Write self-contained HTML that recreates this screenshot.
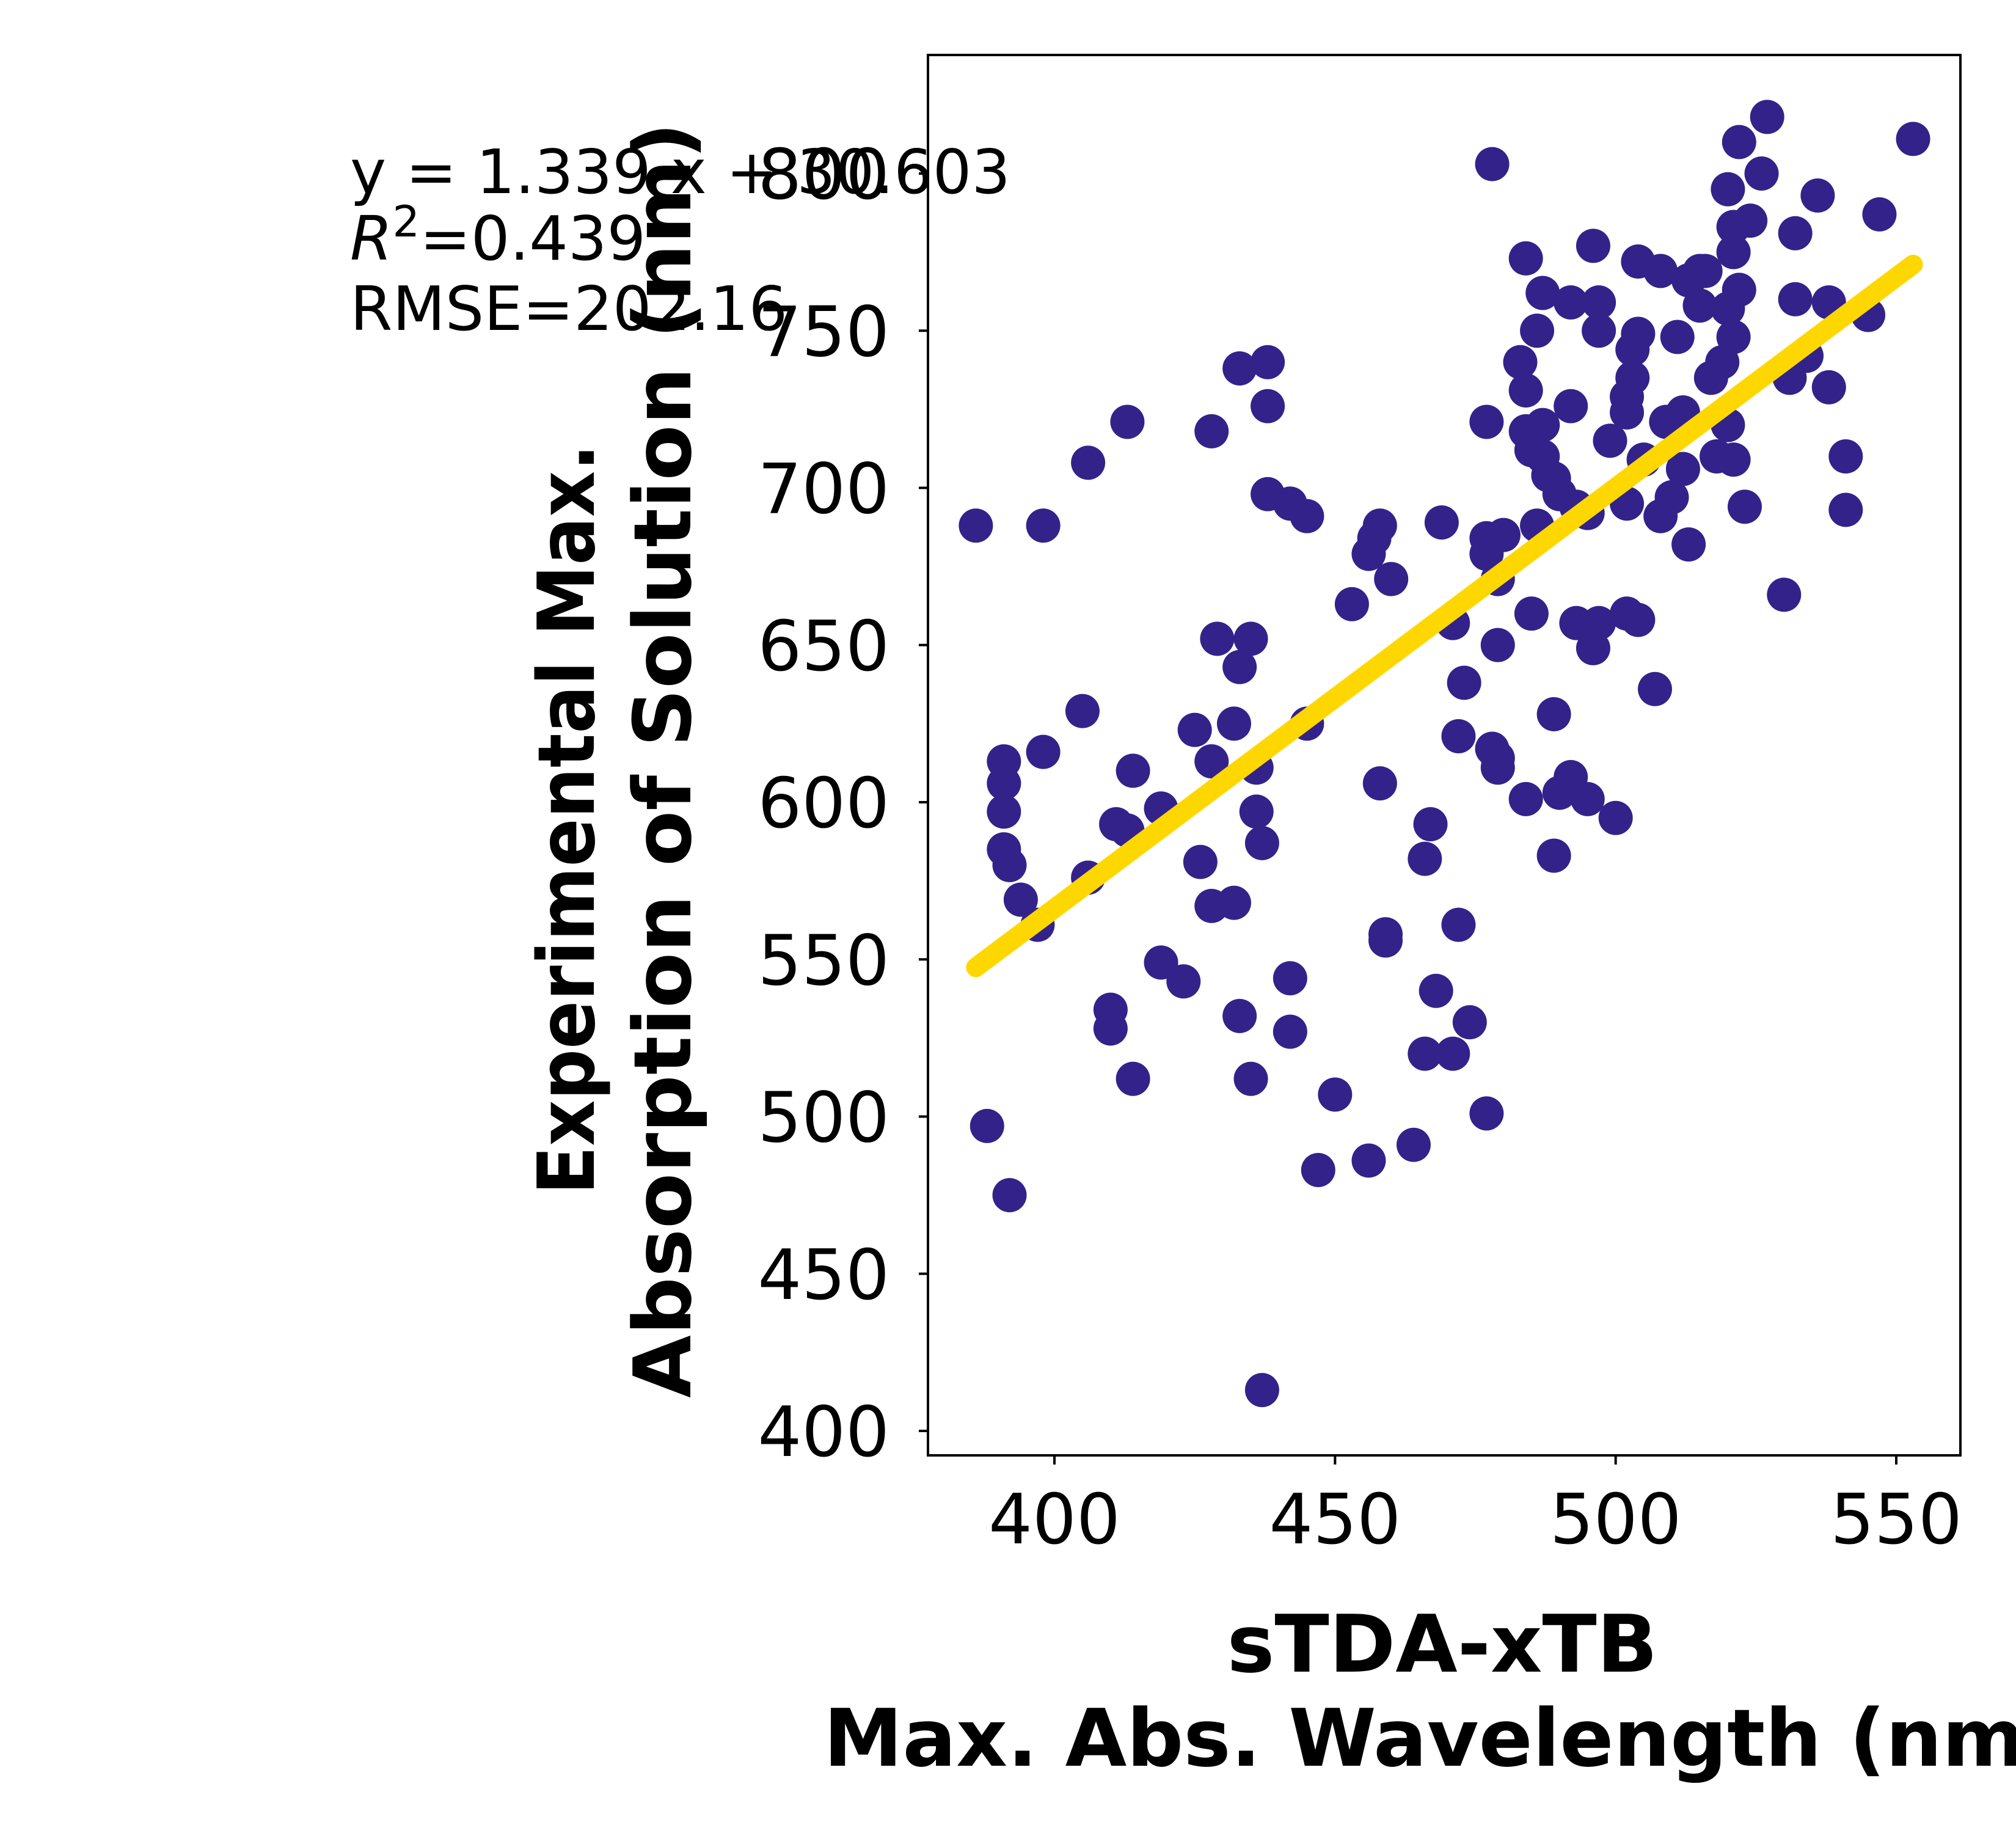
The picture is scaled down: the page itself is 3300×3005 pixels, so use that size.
<!DOCTYPE html>
<html><head><meta charset="utf-8"><style>
html,body{margin:0;padding:0;background:#fff;}
svg text{font-family:"DejaVu Sans","Liberation Sans",sans-serif;}
</style></head><body>
<svg id="chart" width="3300" height="3000" viewBox="0 0 3300 3000" xmlns="http://www.w3.org/2000/svg">
<rect x="0" y="0" width="3300" height="3000" fill="#fff"/>
<g id="plot"></g>
<g id="axes"></g>
<text x="573" y="316" font-size="100">y = 1.339 x + 30.603</text>
<text x="573" y="425" font-size="100"><tspan font-style="italic">R</tspan><tspan font-size="70" dy="-38">2</tspan><tspan dy="38">=0.439</tspan></text>
<text x="573" y="540" font-size="100">RMSE=202.16</text>
<text font-size="130" font-weight="bold" text-anchor="middle"><tspan x="2361" y="2736" textLength="705" lengthAdjust="spacingAndGlyphs">sTDA-xTB</tspan><tspan x="2361" y="2890">Max. Abs. Wavelength (nm)</tspan></text>
<text font-size="128" font-weight="bold" text-anchor="middle" textLength="1229" lengthAdjust="spacingAndGlyphs" transform="translate(972,1341) rotate(-90)">Experimental Max.</text>
<text font-size="130" font-weight="bold" text-anchor="middle" textLength="2088" lengthAdjust="spacingAndGlyphs" transform="translate(1130,1244) rotate(-90)">Absorption of Solution (nm)</text>
</svg>
<script>
const xs = [386,388,392,391,391,391,391,392,394,397,398,398,405,406,406,413,411,413,414,410,410,414,419,419,423,425,426,428,428,428,429,432,432,433,433,433,435,435,436,436,437,437,438,438,438,442,442,442,445,445,447,450,453,456,456,457,458,458,459,459,460,464,466,466,467,468,469,471,471,472,472,473,474,477,477,477,477,478,478,479,479,479,479,480,483,484,484,484,485,484,485,487,486,487,487,486,488,489,489,489,490,490,492,492,492,493,493,495,496,495,496,497,497,497,499,500,502,502,502,502,503,504,503,504,504,505,507,508,508,509,510,511,512,512,513,513,515,515,516,517,518,519,520,520,521,520,521,521,521,522,522,524,523,526,527,530,531,532,532,534,536,538,538,541,541,545,547,553];
const ys = [688,497,475,613,606,597,585,580,569,561,688,616,629,708,576,721,593,591,610,534,528,512,598,549,543,623,581,613,718,567,652,568,625,643,738,532,652,512,611,597,587,413,740,726,698,695,544,527,625,691,483,507,663,486,679,684,688,606,558,556,671,491,582,520,593,540,689,657,520,621,561,638,530,721,501,679,684,803,617,614,611,650,671,685,740,773,731,718,712,601,660,762,750,720,710,688,704,703,628,583,603,698,759,726,608,657,694,601,777,692,649,759,750,657,715,595,695,660,729,724,735,658,744,749,772,709,636,691,769,721,697,748,724,706,682,766,758,769,769,735,710,740,757,720,748,795,775,783,709,810,763,785,694,800,818,666,735,781,760,742,793,732,759,710,693,755,787,811];
const slope = [1.339];
const intercept = [30.603];
const xTicks = [400,450,500,550];
const yTicks = [400,450,500,550,600,650,700,750,800];

const NS = "http://www.w3.org/2000/svg";
const L=1519,R=3209,T=90,B=2382;
function sx(v){ return 1726 + (v-400)*(3104-1726)/150; }
function sy(v){ return 2342 - (v-400)*(2342-284)/400; }
function mk(tag, attrs, parent){ const e=document.createElementNS(NS,tag); for(const k in attrs) e.setAttribute(k,attrs[k]); parent.appendChild(e); return e; }
const plot=document.getElementById('plot'), axes=document.getElementById('axes');

xs.forEach((x,i)=>{
  const c=mk('circle',{cx:sx(x),cy:sy(ys[i]),r:28,fill:'#33228a'},plot);
  
  
});
const xmin=Math.min(...xs), xmax=Math.max(...xs);
const ln=mk('line',{x1:sx(xmin),y1:sy(slope[0]*xmin+intercept[0]),x2:sx(xmax),y2:sy(slope[0]*xmax+intercept[0]),stroke:'#ffd700','stroke-width':32,'stroke-linecap':'round'},plot);



const fr=mk('rect',{x:L,y:T,width:R-L,height:B-T,fill:'none',stroke:'#000','stroke-width':4},axes);


xTicks.forEach(v=>{
  const t=mk('line',{x1:sx(v),y1:B,x2:sx(v),y2:B+15,stroke:'#000','stroke-width':4},axes);
  
  
  const tx=mk('text',{x:sx(v),y:2526,'font-size':113,'text-anchor':'middle'},axes);
  tx.textContent=v;
  
  
});
yTicks.forEach(v=>{
  const t=mk('line',{x1:L-15,y1:sy(v),x2:L,y2:sy(v),stroke:'#000','stroke-width':4},axes);
  
  
  const tx=mk('text',{x:1456,y:sy(v)+41,'font-size':113,'text-anchor':'end'},axes);
  tx.textContent=v;
  
  
});
</script>
</body></html>
